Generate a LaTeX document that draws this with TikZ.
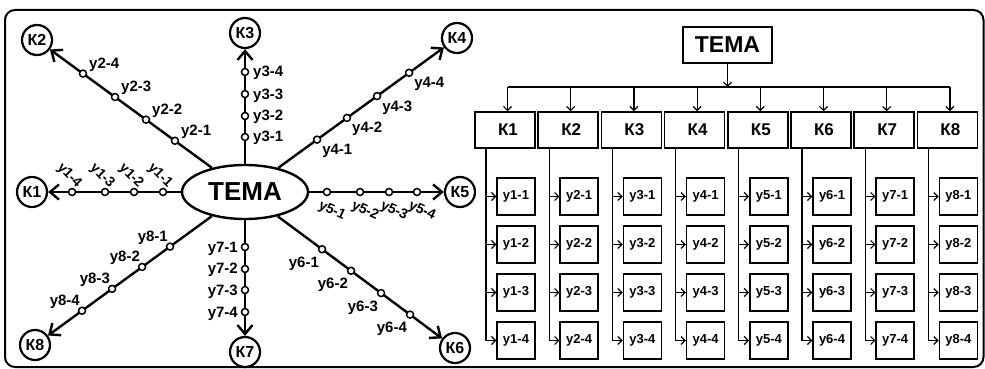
\documentclass[tikz,border=0pt]{standalone}
\usepackage{fontspec}
\setmainfont{Liberation Sans}
\usetikzlibrary{arrows.meta,calc,shapes.geometric}

\begin{document}
\begin{tikzpicture}[x=1pt,y=-1pt,
  temaell/.style={ellipse, draw, line width=2.4pt, minimum width=126pt, minimum height=54pt,
    inner sep=0pt, font=\fontsize{26}{26}\selectfont\bfseries},
  kc/.style={circle, draw, line width=2.2pt, minimum size=30pt, inner sep=0pt,
    font=\fontsize{16}{16}\selectfont\bfseries},
  spoke/.style={line width=2.4pt, -{Straight Barb[length=9pt,width=15pt]}},
  dot/.style={circle, draw, fill=white, line width=1.5pt, minimum size=7pt, inner sep=0pt},
  lbl/.style={font=\fontsize{15}{15}\selectfont\bfseries, inner sep=0pt},
  rlbl/.style={font=\fontsize{14}{14}\selectfont\bfseries, inner sep=0pt},
  hbox/.style={draw, line width=2pt, minimum width=89pt, minimum height=36pt,
    font=\fontsize{23}{23}\selectfont\bfseries},
  kbox/.style={draw, line width=1.5pt, minimum width=60pt, minimum height=36pt,
    inner sep=0pt, font=\fontsize{17}{17}\selectfont\bfseries},
  ubox/.style={draw, line width=1.5pt, minimum width=38pt, minimum height=37pt,
    font=\fontsize{13}{13}\selectfont\bfseries},
  link/.style={line width=1.2pt, -{Straight Barb[length=4pt,width=8pt]}}
]
\useasboundingbox (0,0) rectangle (985,369);

% outer frame
\draw[line width=2pt, rounded corners=10pt] (5,10) rectangle (983.5,367);

% ---------- radial scheme ----------
\node[temaell] (tema) at (245,192) {ТЕМА};
\node[kc] (k1) at (32,192) {К1};
\node[kc] (k2) at (37,40) {К2};
\node[kc] (k3) at (245,33) {К3};
\node[kc] (k4) at (457,38) {К4};
\node[kc] (k5) at (460,192) {К5};
\node[kc] (k6) at (455,348) {К6};
\node[kc] (k7) at (245,352) {К7};
\node[kc] (k8) at (35,345) {К8};

\foreach \i in {1,...,8}
  \draw[spoke] (tema) -- (k\i);

% branch 1
\foreach \i/\t in {1/0.385,2/0.521,3/0.657,4/0.812}{
  \node[dot] (d1\i) at ($(tema)!\t!(k1)$) {};
  \node[rlbl, rotate=-45] at ($(d1\i)+(-3,-16)$) {у1-\i};
}
% branch 2
\foreach \i/\t in {1/0.337,2/0.476,3/0.625,4/0.779}{
  \node[dot] (d2\i) at ($(tema)!\t!(k2)$) {};
  \node[lbl, anchor=base west] at ($(d2\i)+(6,-5)$) {у2-\i};
}
% branch 3
\foreach \i/\t in {1/0.346,2/0.478,3/0.616,4/0.755}{
  \node[dot] (d3\i) at ($(tema)!\t!(k3)$) {};
  \node[lbl, anchor=base west] at ($(d3\i)+(8,5)$) {у3-\i};
}
% branch 4
\foreach \i/\t in {1/0.34,2/0.481,3/0.623,4/0.774}{
  \node[dot] (d4\i) at ($(tema)!\t!(k4)$) {};
  \node[lbl, anchor=base west] at ($(d4\i)+(5,15)$) {у4-\i};
}
% branch 5
\foreach \i/\t in {1/0.381,2/0.535,3/0.670,4/0.800}{
  \node[dot] (d5\i) at ($(tema)!\t!(k5)$) {};
  \node[rlbl, rotate=-25] at ($(d5\i)+(5,19)$) {у5-\i};
}
% branch 6
\foreach \i/\t in {1/0.367,2/0.505,3/0.648,4/0.786}{
  \node[dot] (d6\i) at ($(tema)!\t!(k6)$) {};
  \node[lbl, anchor=base east] at ($(d6\i)+(-3,18)$) {у6-\i};
}
% branch 7
\foreach \i/\t in {1/0.344,2/0.481,3/0.6125,4/0.75}{
  \node[dot] (d7\i) at ($(tema)!\t!(k7)$) {};
  \node[lbl, anchor=base east] at ($(d7\i)+(-7,5)$) {у7-\i};
}
% branch 8
\foreach \i/\t in {1/0.357,2/0.490,3/0.633,4/0.776}{
  \node[dot] (d8\i) at ($(tema)!\t!(k8)$) {};
  \node[lbl, anchor=base east] at ($(d8\i)+(-2,-5)$) {у8-\i};
}

% ---------- tree scheme ----------
\node[hbox] (top) at (727.5,45) {ТЕМА};
\coordinate (bus) at (727.5,87);
\draw[link] (top) -- (bus);

\foreach \i in {1,...,8}{
  \node[kbox] (kb\i) at ({505+63.2*(\i-1)},130) {\hspace*{6pt}К\i};
  \coordinate (t\i) at ([xshift=2.5pt]kb\i.north);
  \coordinate (v\i) at ([xshift=-19pt]kb\i.south);
  \foreach \j in {1,...,4}
    \node[ubox] (u\i\j) at ({516+63.2*(\i-1)},{196.5+48*(\j-1)}) {у\i-\j};
}

\draw[line width=1.2pt] (t1 |- bus) -- (t8 |- bus);
\foreach \i in {1,...,8}{
  \draw[link] (t\i |- bus) -- (t\i);
  \draw[link] (v\i) |- (u\i4.west);
  \foreach \j in {1,2,3}
    \draw[link] (v\i |- u\i\j.west) -- (u\i\j.west);
}
\end{tikzpicture}
\end{document}
